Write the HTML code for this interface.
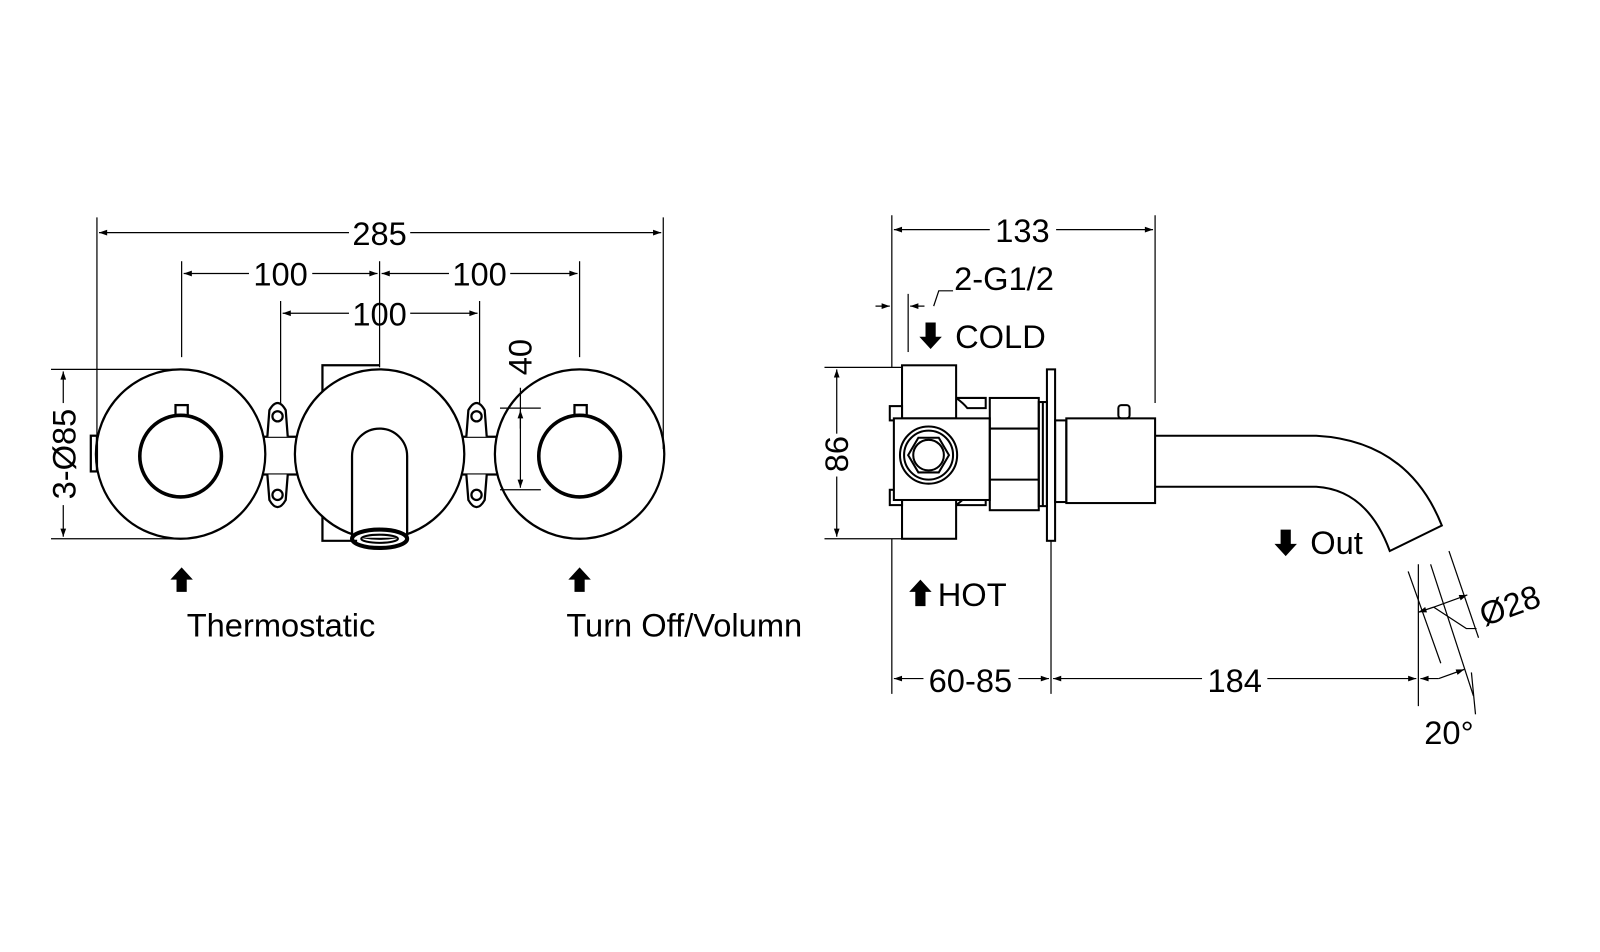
<!DOCTYPE html>
<html><head><meta charset="utf-8"><style>
html,body{margin:0;padding:0;background:#fff;}
svg{display:block}
text{font-family:"Liberation Sans",Arial,sans-serif;fill:#000;font-size:32px}
</style></head><body>
<svg width="1600" height="952" viewBox="0 0 1600 952" xmlns="http://www.w3.org/2000/svg">
<defs>
<marker id="a" viewBox="0 0 10 10" refX="10" refY="5" markerWidth="14" markerHeight="8" orient="auto-start-reverse" markerUnits="userSpaceOnUse"><path d="M0,1.5 L10,5 L0,8.5z" fill="#000"/></marker>
</defs>
<g transform="scale(1.0204)">
<g stroke="#000" fill="none" stroke-width="2.2">
<line x1="255" y1="428" x2="295" y2="428"/><line x1="255" y1="465" x2="295" y2="465"/>
<line x1="450" y1="428" x2="490" y2="428"/><line x1="450" y1="465" x2="490" y2="465"/>
<path d="M262,428 L264,402 Q272,388 280,402 L282,428" fill="#fff"/><circle cx="272" cy="408" r="5"/>
<path d="M262,465 L264,490 Q272,504 280,490 L282,465" fill="#fff"/><circle cx="272" cy="485" r="5"/>
<path d="M457,428 L459,402 Q467,388 475,402 L477,428" fill="#fff"/><circle cx="467" cy="408" r="5"/>
<path d="M457,465 L459,490 Q467,504 475,490 L477,465" fill="#fff"/><circle cx="467" cy="485" r="5"/>
<path d="M372,358 L316,358 L316,530 L350,530"/>
<circle cx="177" cy="445" r="83" fill="#fff"/>
<circle cx="372" cy="445" r="83" fill="#fff"/>
<circle cx="568" cy="445" r="83" fill="#fff"/>
<circle cx="177" cy="447" r="40" stroke-width="3.5"/>
<circle cx="568" cy="447" r="40" stroke-width="3.5"/>
<rect x="172" y="397" width="12" height="10"/>
<rect x="563" y="397" width="12" height="10"/>
<rect x="89" y="427" width="6" height="35"/>
<path d="M345,527 L345,447 A27,27 0 0 1 399,447 L399,527" fill="#fff"/>
<ellipse cx="372" cy="528" rx="27" ry="9" stroke-width="4"/>
<ellipse cx="372" cy="528" rx="18" ry="4" stroke-width="2"/>
</g>
<g stroke="#000" fill="none" stroke-width="1.2">
<line x1="95" y1="213" x2="95" y2="440"/>
<line x1="650" y1="213" x2="650" y2="440"/>
<line x1="97" y1="228" x2="342" y2="228" marker-start="url(#a)"/>
<line x1="402" y1="228" x2="648" y2="228" marker-end="url(#a)"/>
<line x1="178" y1="256" x2="178" y2="350"/>
<line x1="372" y1="256" x2="372" y2="360"/>
<line x1="568" y1="256" x2="568" y2="350"/>
<line x1="180" y1="268" x2="244" y2="268" marker-start="url(#a)"/>
<line x1="306" y1="268" x2="370" y2="268" marker-end="url(#a)"/>
<line x1="374" y1="268" x2="440" y2="268" marker-start="url(#a)"/>
<line x1="500" y1="268" x2="566" y2="268" marker-end="url(#a)"/>
<line x1="275" y1="295" x2="275" y2="395"/>
<line x1="470" y1="295" x2="470" y2="395"/>
<line x1="277" y1="307" x2="342" y2="307" marker-start="url(#a)"/>
<line x1="402" y1="307" x2="468" y2="307" marker-end="url(#a)"/>
<line x1="50" y1="362" x2="177" y2="362"/>
<line x1="50" y1="528" x2="177" y2="528"/>
<line x1="62" y1="364" x2="62" y2="395" marker-start="url(#a)"/>
<line x1="62" y1="495" x2="62" y2="526" marker-end="url(#a)"/>
<line x1="490" y1="400" x2="530" y2="400"/>
<line x1="490" y1="480" x2="530" y2="480"/>
<line x1="510" y1="380" x2="510" y2="478" marker-end="url(#a)"/>
<line x1="510" y1="420" x2="510" y2="402" marker-end="url(#a)"/>
</g>
<text x="372" y="240" text-anchor="middle">285</text>
<text x="275" y="280" text-anchor="middle">100</text>
<text x="470" y="280" text-anchor="middle">100</text>
<text x="372" y="319" text-anchor="middle">100</text>
<text transform="translate(74,445) rotate(-90)" text-anchor="middle">3-Ø85</text>
<text transform="translate(521,350) rotate(-90)" text-anchor="middle">40</text>
<path d="M178,556 L167,568 L173,568 L173,580 L183,580 L183,568 L189,568z" fill="#000"/>
<path d="M568,556 L557,568 L563,568 L563,580 L573,580 L573,568 L579,568z" fill="#000"/>
<text x="183" y="624">Thermostatic</text>
<text x="555" y="624">Turn Off/Volumn</text>

<g stroke="#000" fill="none" stroke-width="1.2">
<line x1="874" y1="211" x2="874" y2="360"/>
<line x1="874" y1="528" x2="874" y2="680"/>
<line x1="1132" y1="211" x2="1132" y2="395"/>
<line x1="876" y1="225" x2="970" y2="225" marker-start="url(#a)"/>
<line x1="1035" y1="225" x2="1130" y2="225" marker-end="url(#a)"/>
<line x1="890" y1="288" x2="890" y2="345"/>
<line x1="858" y1="300" x2="872" y2="300" marker-end="url(#a)"/>
<line x1="906" y1="300" x2="892" y2="300" marker-end="url(#a)"/>
<polyline points="915,300 920,285 934,285"/>
<line x1="808" y1="360" x2="884" y2="360"/>
<line x1="808" y1="528" x2="884" y2="528"/>
<line x1="820" y1="362" x2="820" y2="425" marker-start="url(#a)"/>
<line x1="820" y1="467" x2="820" y2="526" marker-end="url(#a)"/>
<line x1="1030" y1="530" x2="1030" y2="680"/>
<line x1="876" y1="665" x2="905" y2="665" marker-start="url(#a)"/>
<line x1="998" y1="665" x2="1028" y2="665" marker-end="url(#a)"/>
<line x1="1032" y1="665" x2="1178" y2="665" marker-start="url(#a)"/>
<line x1="1242" y1="665" x2="1388" y2="665" marker-end="url(#a)"/>
<line x1="1390" y1="553" x2="1390" y2="692"/>
<line x1="1410" y1="665" x2="1392" y2="665" marker-end="url(#a)"/>
<line x1="1410" y1="665" x2="1435" y2="656" marker-end="url(#a)"/>
<line x1="1402" y1="553" x2="1444" y2="682"/>
<line x1="1380" y1="560" x2="1412" y2="650"/>
<line x1="1420" y1="540" x2="1449" y2="625"/>
<line x1="1405" y1="595" x2="1390" y2="600" marker-end="url(#a)"/>
<line x1="1405" y1="595" x2="1438" y2="583" marker-end="url(#a)"/>
<polyline points="1405,595 1437,616 1447,616"/>
<line x1="1442" y1="659" x2="1446" y2="700"/>
</g>
<g stroke="#000" fill="none" stroke-width="2">
<rect x="884" y="358" width="53" height="52"/>
<rect x="884" y="480" width="53" height="48"/>
<path d="M937,390 Q944,395 948,400 L966,400 L966,390 L937,390"/>
<path d="M937,495 Q944,490 948,485 L966,485 L966,495 L937,495"/>
<rect x="872" y="398" width="12" height="14"/>
<rect x="872" y="480" width="12" height="15"/>
<rect x="876" y="410" width="94" height="80" fill="#fff"/>
<circle cx="910" cy="446" r="28"/>
<circle cx="910" cy="446" r="24"/>
<polygon points="930,446 920,463 900,463 890,446 900,429 920,429"/>
<circle cx="910" cy="446" r="15"/>
<rect x="970" y="390" width="48" height="110"/>
<line x1="970" y1="420" x2="1018" y2="420"/><line x1="970" y1="470" x2="1018" y2="470"/>
<rect x="1018" y="394" width="8" height="102"/>
<line x1="1022" y1="394" x2="1022" y2="496"/>
<rect x="1026" y="362" width="8" height="168"/>
<rect x="1034" y="412" width="11" height="80"/>
<rect x="1045" y="410" width="87" height="83"/>
<rect x="1096" y="397" width="11" height="13" rx="3"/>
<path d="M1132,427 L1290,427 Q1380,432 1413,515 L1362,540 Q1340,480 1290,477 L1132,477"/>
</g>
<path d="M912,342 L901,330 L907,330 L907,316 L917,316 L917,330 L923,330z" fill="#000"/>
<path d="M902,568 L891,580 L897,580 L897,594 L907,594 L907,580 L913,580z" fill="#000"/>
<path d="M1260,545 L1249,533 L1255,533 L1255,519 L1265,519 L1265,533 L1271,533z" fill="#000"/>
<text x="1002" y="237" text-anchor="middle">133</text>
<text x="935" y="284">2-G1/2</text>
<text x="936" y="341">COLD</text>
<text transform="translate(831,445) rotate(-90)" text-anchor="middle">86</text>
<text x="919" y="594">HOT</text>
<text x="1284" y="543">Out</text>
<text x="951" y="678" text-anchor="middle">60-85</text>
<text x="1210" y="678" text-anchor="middle">184</text>
<text x="1420" y="729" text-anchor="middle">20°</text>
<text transform="translate(1455,614) rotate(-20)">Ø28</text>
</g>
</svg>
</body></html>
